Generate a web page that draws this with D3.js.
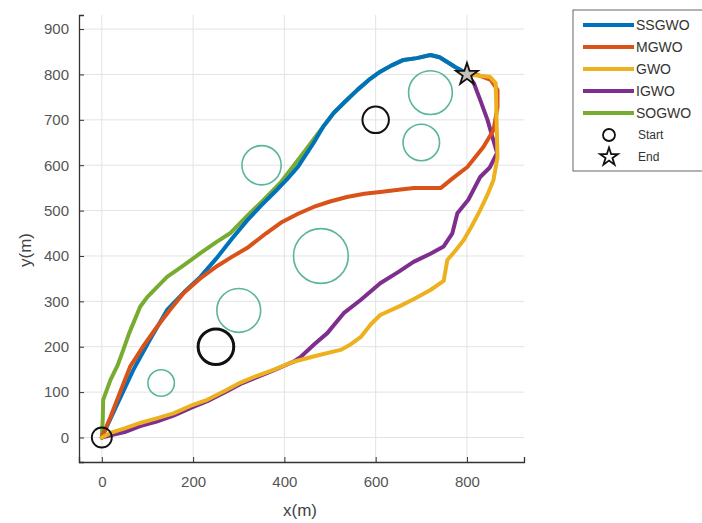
<!DOCTYPE html>
<head>
<meta charset="utf-8">
<script src="https://cdn.jsdelivr.net/npm/d3@7/dist/d3.min.js"></script>
<style>
body { margin: 0; background: #fff; }
text { font-family: "Liberation Sans", Arial, sans-serif; }
</style>
</head>
<body>
<script>
// path data (x, y in metres)
var ssgwo = [[0,0],[30,65],[69,149],[105,215],[143,281],[180,320],[216,354],[253,397],[285,438],[319,479],[350,512],[380,542],[405,568],[430,597],[464,649],[485,685],[508,715],[535,742],[560,766],[585,788],[610,806],[635,820],[661,832],[690,836],[720,843],[740,838],[756,828],[775,816],[793,806],[800,800]];
var mgwo = [[0,0],[19,45],[40,100],[62,156],[90,200],[121,244],[150,282],[179,318],[215,350],[253,378],[285,398],[319,418],[360,450],[395,475],[430,493],[464,508],[500,520],[537,530],[575,537],[610,541],[650,546],[684,550],[743,550],[770,572],[801,596],[836,640],[858,677],[867,728],[867,766],[852,788],[823,799],[800,800]];
var gwo = [[0,0],[19,10],[50,20],[84,32],[120,42],[157,53],[195,70],[231,83],[270,103],[304,121],[340,136],[376,149],[420,167],[470,180],[523,193],[545,205],[567,221],[590,250],[610,270],[654,290],[684,305],[720,325],[749,345],[757,391],[775,412],[793,435],[810,465],[829,501],[845,535],[858,567],[867,618],[865,693],[863,781],[850,795],[800,800]];
var igwo = [[0,0],[19,5],[50,12],[84,25],[120,35],[157,48],[195,65],[231,80],[270,100],[304,118],[340,133],[376,148],[420,167],[435,177],[465,205],[494,230],[530,274],[567,303],[610,340],[650,365],[683,387],[720,405],[749,421],[768,450],[779,494],[803,524],[829,574],[850,595],[866,627],[855,665],[845,700],[829,744],[815,781],[800,800]];
var sogwo = [[0,0],[2,40],[3,83],[19,127],[35,160],[47,193],[60,230],[84,288],[100,310],[143,354],[180,380],[216,406],[250,430],[281,450],[320,490],[354,523],[391,561],[435,618],[470,665],[508,715],[535,742],[560,766],[585,788],[610,806],[635,820],[661,832],[690,836],[720,843],[740,838],[756,828],[775,816],[793,806],[800,800]];

var names = ["SSGWO","MGWO","GWO","IGWO","SOGWO"];
var colors = ["#0072BD","#D95319","#EDB120","#7E2F8E","#77AC30"];
var paths = [ssgwo, mgwo, gwo, igwo, sogwo];
var drawOrder = [4, 0, 3, 1, 2];

// obstacles: [x, y, r]
var threats = [[350,600,43],[720,760,48],[700,650,40],[480,400,60],[300,280,48],[130,120,29]];
var blackObs = [[250,200,39,3],[600,700,29,2]];
var start = [0,0], goal = [800,800];

var xTicks = [0,200,400,600,800];
var yTicks = [0,100,200,300,400,500,600,700,800,900];

var width = 702, height = 523;
var svg = d3.select("body").append("svg")
  .attr("width", width)
  .attr("height", height);

var x = d3.scaleLinear().domain([-50, 925]).range([79, 524]);
var y = d3.scaleLinear().domain([-54, 931]).range([462, 15]);

// grid
svg.selectAll("line.gx").data(xTicks).enter().append("line")
  .attr("x1", function(d){return x(d);}).attr("x2", function(d){return x(d);})
  .attr("y1", 15).attr("y2", 462)
  .attr("stroke", "#e3e3e3").attr("stroke-width", 1);
svg.selectAll("line.gy").data(yTicks).enter().append("line")
  .attr("x1", 79).attr("x2", 524)
  .attr("y1", function(d){return y(d);}).attr("y2", function(d){return y(d);})
  .attr("stroke", "#e3e3e3").attr("stroke-width", 1);

// axes
var xAxis = svg.append("g").attr("transform", "translate(0,462)")
  .call(d3.axisBottom(x).tickValues(xTicks).tickSize(-5).tickPadding(14));
var yAxis = svg.append("g").attr("transform", "translate(79,0)")
  .call(d3.axisLeft(y).tickValues(yTicks).tickSize(-5).tickPadding(10));
[xAxis, yAxis].forEach(function(a) {
  a.select(".domain").attr("stroke", "#333").attr("stroke-width", 1.3);
  a.selectAll(".tick line").attr("stroke", "#333");
  a.selectAll("text").attr("font-size", 15).attr("fill", "#555")
    .style("font-family", "'Liberation Sans', Arial, sans-serif");
});

svg.append("text").attr("x", 300).attr("y", 516).attr("text-anchor", "middle")
  .attr("font-size", 17).attr("fill", "#444").text("x(m)");
svg.append("text").attr("transform", "translate(31,250) rotate(-90)")
  .attr("text-anchor", "middle").attr("font-size", 17).attr("fill", "#444").text("y(m)");

// obstacles
svg.selectAll("circle.threat").data(threats).enter().append("circle")
  .attr("cx", function(d){return x(d[0]);}).attr("cy", function(d){return y(d[1]);})
  .attr("r", function(d){return x(d[2]) - x(0);})
  .attr("fill", "none").attr("stroke", "#5bb59c").attr("stroke-width", 1.6);
svg.selectAll("circle.black").data(blackObs).enter().append("circle")
  .attr("cx", function(d){return x(d[0]);}).attr("cy", function(d){return y(d[1]);})
  .attr("r", function(d){return x(d[2]) - x(0);})
  .attr("fill", "none").attr("stroke", "#111").attr("stroke-width", function(d){return d[3];});

// paths
var line = d3.line().x(function(d){return x(d[0]);}).y(function(d){return y(d[1]);});
drawOrder.forEach(function(i) {
  svg.append("path").attr("d", line(paths[i]))
    .attr("fill", "none").attr("stroke", colors[i]).attr("stroke-width", 4)
    .attr("stroke-linejoin", "round").attr("stroke-linecap", "round");
});

// start / end markers
svg.append("circle").attr("cx", x(start[0])).attr("cy", y(start[1])).attr("r", 10)
  .attr("fill", "none").attr("stroke", "#111").attr("stroke-width", 1.8);
var star = d3.symbol().type(d3.symbolStar).size(150);
svg.append("path").attr("d", star())
  .attr("transform", "translate(" + x(goal[0]) + "," + y(goal[1]) + ")")
  .attr("fill", "#c8c0b8").attr("stroke", "#111").attr("stroke-width", 1.8);

// legend
var lg = svg.append("g");
lg.append("rect").attr("x", 573).attr("y", 10).attr("width", 140).attr("height", 161)
  .attr("fill", "#fff").attr("stroke", "#666").attr("stroke-width", 1);
names.forEach(function(n, i) {
  var yy = 25 + i * 22;
  lg.append("line").attr("x1", 583).attr("x2", 634).attr("y1", yy).attr("y2", yy)
    .attr("stroke", colors[i]).attr("stroke-width", 4);
  lg.append("text").attr("x", 636).attr("y", yy + 5).attr("font-size", 14)
    .attr("fill", "#333").text(n);
});
lg.append("circle").attr("cx", 609).attr("cy", 135).attr("r", 6)
  .attr("fill", "none").attr("stroke", "#111").attr("stroke-width", 1.8);
lg.append("text").attr("x", 638).attr("y", 139).attr("font-size", 12).attr("fill", "#333").text("Start");
lg.append("path").attr("d", d3.symbol().type(d3.symbolStar).size(100)())
  .attr("transform", "translate(609,157)")
  .attr("fill", "#fff").attr("stroke", "#111").attr("stroke-width", 1.8);
lg.append("text").attr("x", 638).attr("y", 161).attr("font-size", 12).attr("fill", "#333").text("End");
</script>
</body>
